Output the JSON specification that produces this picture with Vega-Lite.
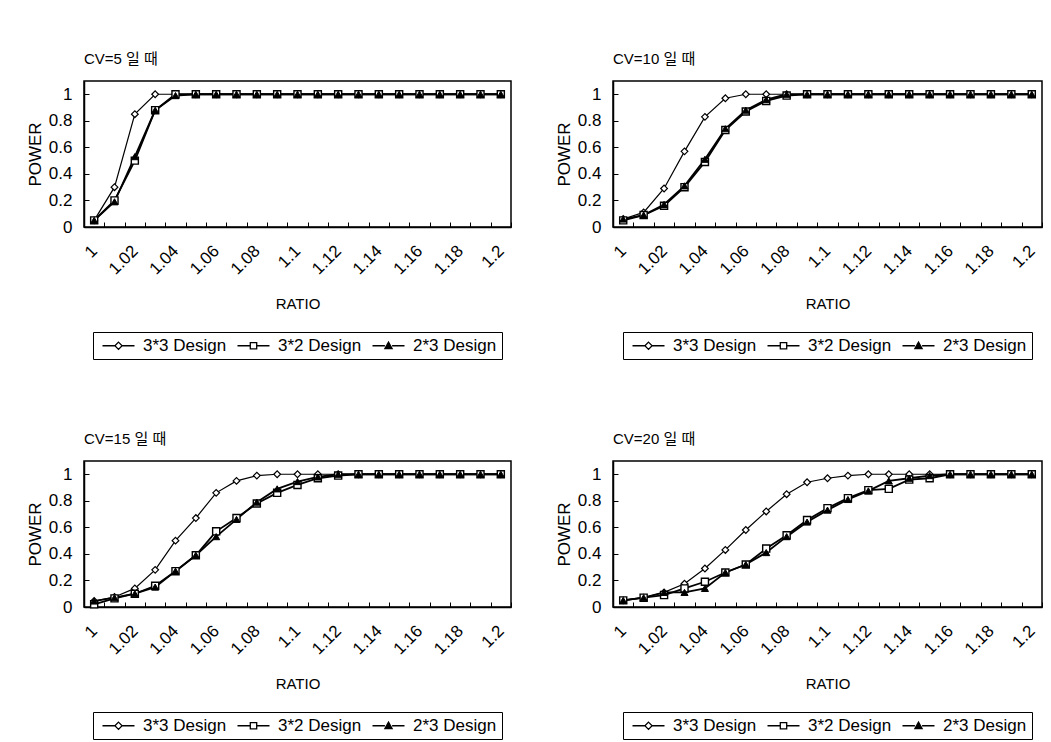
{
  "$schema": "https://vega.github.io/schema/vega-lite/v6.json",
  "background": "white",
  "padding": {"left": 25, "top": 51, "right": 4, "bottom": 2},
  "datasets": {
    "power": [
      {"cv":5,"design":"3*3 Design","ratio":1,"power":0.05},{"cv":5,"design":"3*3 Design","ratio":1.01,"power":0.3},{"cv":5,"design":"3*3 Design","ratio":1.02,"power":0.85},{"cv":5,"design":"3*3 Design","ratio":1.03,"power":1},{"cv":5,"design":"3*3 Design","ratio":1.04,"power":1},{"cv":5,"design":"3*3 Design","ratio":1.05,"power":1},{"cv":5,"design":"3*3 Design","ratio":1.06,"power":1},{"cv":5,"design":"3*3 Design","ratio":1.07,"power":1},{"cv":5,"design":"3*3 Design","ratio":1.08,"power":1},{"cv":5,"design":"3*3 Design","ratio":1.09,"power":1},{"cv":5,"design":"3*3 Design","ratio":1.1,"power":1},{"cv":5,"design":"3*3 Design","ratio":1.11,"power":1},{"cv":5,"design":"3*3 Design","ratio":1.12,"power":1},{"cv":5,"design":"3*3 Design","ratio":1.13,"power":1},{"cv":5,"design":"3*3 Design","ratio":1.14,"power":1},{"cv":5,"design":"3*3 Design","ratio":1.15,"power":1},{"cv":5,"design":"3*3 Design","ratio":1.16,"power":1},{"cv":5,"design":"3*3 Design","ratio":1.17,"power":1},{"cv":5,"design":"3*3 Design","ratio":1.18,"power":1},{"cv":5,"design":"3*3 Design","ratio":1.19,"power":1},{"cv":5,"design":"3*3 Design","ratio":1.2,"power":1},
      {"cv":5,"design":"3*2 Design","ratio":1,"power":0.05},{"cv":5,"design":"3*2 Design","ratio":1.01,"power":0.2},{"cv":5,"design":"3*2 Design","ratio":1.02,"power":0.5},{"cv":5,"design":"3*2 Design","ratio":1.03,"power":0.88},{"cv":5,"design":"3*2 Design","ratio":1.04,"power":1},{"cv":5,"design":"3*2 Design","ratio":1.05,"power":1},{"cv":5,"design":"3*2 Design","ratio":1.06,"power":1},{"cv":5,"design":"3*2 Design","ratio":1.07,"power":1},{"cv":5,"design":"3*2 Design","ratio":1.08,"power":1},{"cv":5,"design":"3*2 Design","ratio":1.09,"power":1},{"cv":5,"design":"3*2 Design","ratio":1.1,"power":1},{"cv":5,"design":"3*2 Design","ratio":1.11,"power":1},{"cv":5,"design":"3*2 Design","ratio":1.12,"power":1},{"cv":5,"design":"3*2 Design","ratio":1.13,"power":1},{"cv":5,"design":"3*2 Design","ratio":1.14,"power":1},{"cv":5,"design":"3*2 Design","ratio":1.15,"power":1},{"cv":5,"design":"3*2 Design","ratio":1.16,"power":1},{"cv":5,"design":"3*2 Design","ratio":1.17,"power":1},{"cv":5,"design":"3*2 Design","ratio":1.18,"power":1},{"cv":5,"design":"3*2 Design","ratio":1.19,"power":1},{"cv":5,"design":"3*2 Design","ratio":1.2,"power":1},
      {"cv":5,"design":"2*3 Design","ratio":1,"power":0.05},{"cv":5,"design":"2*3 Design","ratio":1.01,"power":0.19},{"cv":5,"design":"2*3 Design","ratio":1.02,"power":0.53},{"cv":5,"design":"2*3 Design","ratio":1.03,"power":0.88},{"cv":5,"design":"2*3 Design","ratio":1.04,"power":0.99},{"cv":5,"design":"2*3 Design","ratio":1.05,"power":1},{"cv":5,"design":"2*3 Design","ratio":1.06,"power":1},{"cv":5,"design":"2*3 Design","ratio":1.07,"power":1},{"cv":5,"design":"2*3 Design","ratio":1.08,"power":1},{"cv":5,"design":"2*3 Design","ratio":1.09,"power":1},{"cv":5,"design":"2*3 Design","ratio":1.1,"power":1},{"cv":5,"design":"2*3 Design","ratio":1.11,"power":1},{"cv":5,"design":"2*3 Design","ratio":1.12,"power":1},{"cv":5,"design":"2*3 Design","ratio":1.13,"power":1},{"cv":5,"design":"2*3 Design","ratio":1.14,"power":1},{"cv":5,"design":"2*3 Design","ratio":1.15,"power":1},{"cv":5,"design":"2*3 Design","ratio":1.16,"power":1},{"cv":5,"design":"2*3 Design","ratio":1.17,"power":1},{"cv":5,"design":"2*3 Design","ratio":1.18,"power":1},{"cv":5,"design":"2*3 Design","ratio":1.19,"power":1},{"cv":5,"design":"2*3 Design","ratio":1.2,"power":1},

      {"cv":10,"design":"3*3 Design","ratio":1,"power":0.06},{"cv":10,"design":"3*3 Design","ratio":1.01,"power":0.11},{"cv":10,"design":"3*3 Design","ratio":1.02,"power":0.29},{"cv":10,"design":"3*3 Design","ratio":1.03,"power":0.57},{"cv":10,"design":"3*3 Design","ratio":1.04,"power":0.83},{"cv":10,"design":"3*3 Design","ratio":1.05,"power":0.97},{"cv":10,"design":"3*3 Design","ratio":1.06,"power":1},{"cv":10,"design":"3*3 Design","ratio":1.07,"power":1},{"cv":10,"design":"3*3 Design","ratio":1.08,"power":1},{"cv":10,"design":"3*3 Design","ratio":1.09,"power":1},{"cv":10,"design":"3*3 Design","ratio":1.1,"power":1},{"cv":10,"design":"3*3 Design","ratio":1.11,"power":1},{"cv":10,"design":"3*3 Design","ratio":1.12,"power":1},{"cv":10,"design":"3*3 Design","ratio":1.13,"power":1},{"cv":10,"design":"3*3 Design","ratio":1.14,"power":1},{"cv":10,"design":"3*3 Design","ratio":1.15,"power":1},{"cv":10,"design":"3*3 Design","ratio":1.16,"power":1},{"cv":10,"design":"3*3 Design","ratio":1.17,"power":1},{"cv":10,"design":"3*3 Design","ratio":1.18,"power":1},{"cv":10,"design":"3*3 Design","ratio":1.19,"power":1},{"cv":10,"design":"3*3 Design","ratio":1.2,"power":1},
      {"cv":10,"design":"3*2 Design","ratio":1,"power":0.05},{"cv":10,"design":"3*2 Design","ratio":1.01,"power":0.09},{"cv":10,"design":"3*2 Design","ratio":1.02,"power":0.16},{"cv":10,"design":"3*2 Design","ratio":1.03,"power":0.3},{"cv":10,"design":"3*2 Design","ratio":1.04,"power":0.49},{"cv":10,"design":"3*2 Design","ratio":1.05,"power":0.73},{"cv":10,"design":"3*2 Design","ratio":1.06,"power":0.87},{"cv":10,"design":"3*2 Design","ratio":1.07,"power":0.95},{"cv":10,"design":"3*2 Design","ratio":1.08,"power":0.99},{"cv":10,"design":"3*2 Design","ratio":1.09,"power":1},{"cv":10,"design":"3*2 Design","ratio":1.1,"power":1},{"cv":10,"design":"3*2 Design","ratio":1.11,"power":1},{"cv":10,"design":"3*2 Design","ratio":1.12,"power":1},{"cv":10,"design":"3*2 Design","ratio":1.13,"power":1},{"cv":10,"design":"3*2 Design","ratio":1.14,"power":1},{"cv":10,"design":"3*2 Design","ratio":1.15,"power":1},{"cv":10,"design":"3*2 Design","ratio":1.16,"power":1},{"cv":10,"design":"3*2 Design","ratio":1.17,"power":1},{"cv":10,"design":"3*2 Design","ratio":1.18,"power":1},{"cv":10,"design":"3*2 Design","ratio":1.19,"power":1},{"cv":10,"design":"3*2 Design","ratio":1.2,"power":1},
      {"cv":10,"design":"2*3 Design","ratio":1,"power":0.06},{"cv":10,"design":"2*3 Design","ratio":1.01,"power":0.09},{"cv":10,"design":"2*3 Design","ratio":1.02,"power":0.17},{"cv":10,"design":"2*3 Design","ratio":1.03,"power":0.31},{"cv":10,"design":"2*3 Design","ratio":1.04,"power":0.51},{"cv":10,"design":"2*3 Design","ratio":1.05,"power":0.74},{"cv":10,"design":"2*3 Design","ratio":1.06,"power":0.88},{"cv":10,"design":"2*3 Design","ratio":1.07,"power":0.96},{"cv":10,"design":"2*3 Design","ratio":1.08,"power":1},{"cv":10,"design":"2*3 Design","ratio":1.09,"power":1},{"cv":10,"design":"2*3 Design","ratio":1.1,"power":1},{"cv":10,"design":"2*3 Design","ratio":1.11,"power":1},{"cv":10,"design":"2*3 Design","ratio":1.12,"power":1},{"cv":10,"design":"2*3 Design","ratio":1.13,"power":1},{"cv":10,"design":"2*3 Design","ratio":1.14,"power":1},{"cv":10,"design":"2*3 Design","ratio":1.15,"power":1},{"cv":10,"design":"2*3 Design","ratio":1.16,"power":1},{"cv":10,"design":"2*3 Design","ratio":1.17,"power":1},{"cv":10,"design":"2*3 Design","ratio":1.18,"power":1},{"cv":10,"design":"2*3 Design","ratio":1.19,"power":1},{"cv":10,"design":"2*3 Design","ratio":1.2,"power":1},

      {"cv":15,"design":"3*3 Design","ratio":1,"power":0.045},{"cv":15,"design":"3*3 Design","ratio":1.01,"power":0.075},{"cv":15,"design":"3*3 Design","ratio":1.02,"power":0.14},{"cv":15,"design":"3*3 Design","ratio":1.03,"power":0.28},{"cv":15,"design":"3*3 Design","ratio":1.04,"power":0.5},{"cv":15,"design":"3*3 Design","ratio":1.05,"power":0.67},{"cv":15,"design":"3*3 Design","ratio":1.06,"power":0.86},{"cv":15,"design":"3*3 Design","ratio":1.07,"power":0.95},{"cv":15,"design":"3*3 Design","ratio":1.08,"power":0.99},{"cv":15,"design":"3*3 Design","ratio":1.09,"power":1},{"cv":15,"design":"3*3 Design","ratio":1.1,"power":1},{"cv":15,"design":"3*3 Design","ratio":1.11,"power":1},{"cv":15,"design":"3*3 Design","ratio":1.12,"power":1},{"cv":15,"design":"3*3 Design","ratio":1.13,"power":1},{"cv":15,"design":"3*3 Design","ratio":1.14,"power":1},{"cv":15,"design":"3*3 Design","ratio":1.15,"power":1},{"cv":15,"design":"3*3 Design","ratio":1.16,"power":1},{"cv":15,"design":"3*3 Design","ratio":1.17,"power":1},{"cv":15,"design":"3*3 Design","ratio":1.18,"power":1},{"cv":15,"design":"3*3 Design","ratio":1.19,"power":1},{"cv":15,"design":"3*3 Design","ratio":1.2,"power":1},
      {"cv":15,"design":"3*2 Design","ratio":1,"power":0.02},{"cv":15,"design":"3*2 Design","ratio":1.01,"power":0.065},{"cv":15,"design":"3*2 Design","ratio":1.02,"power":0.1},{"cv":15,"design":"3*2 Design","ratio":1.03,"power":0.16},{"cv":15,"design":"3*2 Design","ratio":1.04,"power":0.27},{"cv":15,"design":"3*2 Design","ratio":1.05,"power":0.39},{"cv":15,"design":"3*2 Design","ratio":1.06,"power":0.57},{"cv":15,"design":"3*2 Design","ratio":1.07,"power":0.67},{"cv":15,"design":"3*2 Design","ratio":1.08,"power":0.78},{"cv":15,"design":"3*2 Design","ratio":1.09,"power":0.86},{"cv":15,"design":"3*2 Design","ratio":1.1,"power":0.92},{"cv":15,"design":"3*2 Design","ratio":1.11,"power":0.97},{"cv":15,"design":"3*2 Design","ratio":1.12,"power":0.99},{"cv":15,"design":"3*2 Design","ratio":1.13,"power":1},{"cv":15,"design":"3*2 Design","ratio":1.14,"power":1},{"cv":15,"design":"3*2 Design","ratio":1.15,"power":1},{"cv":15,"design":"3*2 Design","ratio":1.16,"power":1},{"cv":15,"design":"3*2 Design","ratio":1.17,"power":1},{"cv":15,"design":"3*2 Design","ratio":1.18,"power":1},{"cv":15,"design":"3*2 Design","ratio":1.19,"power":1},{"cv":15,"design":"3*2 Design","ratio":1.2,"power":1},
      {"cv":15,"design":"2*3 Design","ratio":1,"power":0.045},{"cv":15,"design":"2*3 Design","ratio":1.01,"power":0.07},{"cv":15,"design":"2*3 Design","ratio":1.02,"power":0.1},{"cv":15,"design":"2*3 Design","ratio":1.03,"power":0.15},{"cv":15,"design":"2*3 Design","ratio":1.04,"power":0.27},{"cv":15,"design":"2*3 Design","ratio":1.05,"power":0.39},{"cv":15,"design":"2*3 Design","ratio":1.06,"power":0.53},{"cv":15,"design":"2*3 Design","ratio":1.07,"power":0.66},{"cv":15,"design":"2*3 Design","ratio":1.08,"power":0.79},{"cv":15,"design":"2*3 Design","ratio":1.09,"power":0.89},{"cv":15,"design":"2*3 Design","ratio":1.1,"power":0.945},{"cv":15,"design":"2*3 Design","ratio":1.11,"power":0.98},{"cv":15,"design":"2*3 Design","ratio":1.12,"power":1},{"cv":15,"design":"2*3 Design","ratio":1.13,"power":1},{"cv":15,"design":"2*3 Design","ratio":1.14,"power":1},{"cv":15,"design":"2*3 Design","ratio":1.15,"power":1},{"cv":15,"design":"2*3 Design","ratio":1.16,"power":1},{"cv":15,"design":"2*3 Design","ratio":1.17,"power":1},{"cv":15,"design":"2*3 Design","ratio":1.18,"power":1},{"cv":15,"design":"2*3 Design","ratio":1.19,"power":1},{"cv":15,"design":"2*3 Design","ratio":1.2,"power":1},

      {"cv":20,"design":"3*3 Design","ratio":1,"power":0.05},{"cv":20,"design":"3*3 Design","ratio":1.01,"power":0.07},{"cv":20,"design":"3*3 Design","ratio":1.02,"power":0.11},{"cv":20,"design":"3*3 Design","ratio":1.03,"power":0.175},{"cv":20,"design":"3*3 Design","ratio":1.04,"power":0.29},{"cv":20,"design":"3*3 Design","ratio":1.05,"power":0.43},{"cv":20,"design":"3*3 Design","ratio":1.06,"power":0.58},{"cv":20,"design":"3*3 Design","ratio":1.07,"power":0.72},{"cv":20,"design":"3*3 Design","ratio":1.08,"power":0.85},{"cv":20,"design":"3*3 Design","ratio":1.09,"power":0.94},{"cv":20,"design":"3*3 Design","ratio":1.1,"power":0.97},{"cv":20,"design":"3*3 Design","ratio":1.11,"power":0.99},{"cv":20,"design":"3*3 Design","ratio":1.12,"power":1},{"cv":20,"design":"3*3 Design","ratio":1.13,"power":1},{"cv":20,"design":"3*3 Design","ratio":1.14,"power":1},{"cv":20,"design":"3*3 Design","ratio":1.15,"power":1},{"cv":20,"design":"3*3 Design","ratio":1.16,"power":1},{"cv":20,"design":"3*3 Design","ratio":1.17,"power":1},{"cv":20,"design":"3*3 Design","ratio":1.18,"power":1},{"cv":20,"design":"3*3 Design","ratio":1.19,"power":1},{"cv":20,"design":"3*3 Design","ratio":1.2,"power":1},
      {"cv":20,"design":"3*2 Design","ratio":1,"power":0.05},{"cv":20,"design":"3*2 Design","ratio":1.01,"power":0.07},{"cv":20,"design":"3*2 Design","ratio":1.02,"power":0.09},{"cv":20,"design":"3*2 Design","ratio":1.03,"power":0.14},{"cv":20,"design":"3*2 Design","ratio":1.04,"power":0.19},{"cv":20,"design":"3*2 Design","ratio":1.05,"power":0.26},{"cv":20,"design":"3*2 Design","ratio":1.06,"power":0.32},{"cv":20,"design":"3*2 Design","ratio":1.07,"power":0.44},{"cv":20,"design":"3*2 Design","ratio":1.08,"power":0.54},{"cv":20,"design":"3*2 Design","ratio":1.09,"power":0.655},{"cv":20,"design":"3*2 Design","ratio":1.1,"power":0.745},{"cv":20,"design":"3*2 Design","ratio":1.11,"power":0.82},{"cv":20,"design":"3*2 Design","ratio":1.12,"power":0.88},{"cv":20,"design":"3*2 Design","ratio":1.13,"power":0.89},{"cv":20,"design":"3*2 Design","ratio":1.14,"power":0.96},{"cv":20,"design":"3*2 Design","ratio":1.15,"power":0.97},{"cv":20,"design":"3*2 Design","ratio":1.16,"power":1},{"cv":20,"design":"3*2 Design","ratio":1.17,"power":1},{"cv":20,"design":"3*2 Design","ratio":1.18,"power":1},{"cv":20,"design":"3*2 Design","ratio":1.19,"power":1},{"cv":20,"design":"3*2 Design","ratio":1.2,"power":1},
      {"cv":20,"design":"2*3 Design","ratio":1,"power":0.05},{"cv":20,"design":"2*3 Design","ratio":1.01,"power":0.07},{"cv":20,"design":"2*3 Design","ratio":1.02,"power":0.11},{"cv":20,"design":"2*3 Design","ratio":1.03,"power":0.11},{"cv":20,"design":"2*3 Design","ratio":1.04,"power":0.14},{"cv":20,"design":"2*3 Design","ratio":1.05,"power":0.26},{"cv":20,"design":"2*3 Design","ratio":1.06,"power":0.32},{"cv":20,"design":"2*3 Design","ratio":1.07,"power":0.41},{"cv":20,"design":"2*3 Design","ratio":1.08,"power":0.53},{"cv":20,"design":"2*3 Design","ratio":1.09,"power":0.64},{"cv":20,"design":"2*3 Design","ratio":1.1,"power":0.73},{"cv":20,"design":"2*3 Design","ratio":1.11,"power":0.81},{"cv":20,"design":"2*3 Design","ratio":1.12,"power":0.875},{"cv":20,"design":"2*3 Design","ratio":1.13,"power":0.95},{"cv":20,"design":"2*3 Design","ratio":1.14,"power":0.97},{"cv":20,"design":"2*3 Design","ratio":1.15,"power":0.99},{"cv":20,"design":"2*3 Design","ratio":1.16,"power":1},{"cv":20,"design":"2*3 Design","ratio":1.17,"power":1},{"cv":20,"design":"2*3 Design","ratio":1.18,"power":1},{"cv":20,"design":"2*3 Design","ratio":1.19,"power":1},{"cv":20,"design":"2*3 Design","ratio":1.2,"power":1}
    ]
  },
  "data": {"name": "power"},
  "columns": 2,
  "spacing": {"column": 41, "row": 70},
  "resolve": {
    "scale": {"x": "independent", "y": "independent", "color": "independent"},
    "legend": {"color": "independent"},
    "axis": {"x": "independent", "y": "independent"}
  },
  "concat": [
    {
      "title": {"text": "CV=5 일 때"},
      "width": 427, "height": 146,
      "transform": [{"filter": "datum.cv == 5"}],
      "encoding": {
        "x": {"field": "ratio", "type": "ordinal", "title": "RATIO", "sort": "ascending", "scale": {"type": "band", "paddingInner": 0, "paddingOuter": 0}, "axis": {"labelAngle": -45, "labelAlign": "right", "labelBaseline": "middle", "labelExpr": "round(datum.value * 100) % 2 == 0 ? datum.label : ''", "tickBand": "extent", "tickSize": -5, "labelPadding": 26, "titlePadding": 19}},
        "y": {"field": "power", "type": "quantitative", "title": "POWER", "scale": {"domain": [0, 1.1], "nice": false}, "axis": {"values": [0, 0.2, 0.4, 0.6, 0.8, 1], "format": "~g", "tickSize": -5, "labelPadding": 17, "titlePadding": 4}}
      },
      "layer": [
        {"transform": [{"filter": "datum.design == '3*3 Design'"}], "mark": {"type": "line", "strokeWidth": 1.2},
         "encoding": {"color": {"field": "design", "type": "nominal", "title": null, "scale": {"domain": ["3*3 Design", "3*2 Design", "2*3 Design"], "range": ["black", "black", "black"]},
          "legend": {"title": null, "orient": "bottom", "direction": "horizontal", "columns": 3, "strokeColor": "black", "padding": 5, "offset": 20, "symbolSize": 64, "labelOffset": 28, "columnPadding": 6,
            "encode": {"symbols": {"update": {"shape": {"signal": "datum.value == '3*3 Design' ? 'M-1,0H2.1M3.9,0H7M3,-0.9L3.9,0L3,0.9L2.1,0Z' : datum.value == '3*2 Design' ? 'M-1,0H2.2M3.8,0H7M2.2,-0.8H3.8V0.8H2.2Z' : 'M-1,0H2.1M3.9,0H7M3,-0.9L3.9,0.7H2.1Z'"}, "fill": {"signal": "datum.value == '2*3 Design' ? 'black' : 'white'"}, "size": {"value": 64}, "strokeWidth": {"value": 1.3}, "opacity": {"value": 1}}}}}}}},
        {"transform": [{"filter": "datum.design != '3*3 Design'"}], "mark": {"type": "line", "strokeWidth": 1.8},
         "encoding": {"color": {"field": "design", "type": "nominal", "title": null, "scale": {"domain": ["3*3 Design", "3*2 Design", "2*3 Design"], "range": ["black", "black", "black"]},
          "legend": {"title": null, "orient": "bottom", "direction": "horizontal", "columns": 3, "strokeColor": "black", "padding": 5, "offset": 20, "symbolSize": 64, "labelOffset": 28, "columnPadding": 6,
            "encode": {"symbols": {"update": {"shape": {"signal": "datum.value == '3*3 Design' ? 'M-1,0H2.1M3.9,0H7M3,-0.9L3.9,0L3,0.9L2.1,0Z' : datum.value == '3*2 Design' ? 'M-1,0H2.2M3.8,0H7M2.2,-0.8H3.8V0.8H2.2Z' : 'M-1,0H2.1M3.9,0H7M3,-0.9L3.9,0.7H2.1Z'"}, "fill": {"signal": "datum.value == '2*3 Design' ? 'black' : 'white'"}, "size": {"value": 64}, "strokeWidth": {"value": 1.3}, "opacity": {"value": 1}}}}}}}},
        {"transform": [{"filter": "datum.design == '3*3 Design'"}], "mark": {"type": "point", "shape": "diamond", "filled": true, "fill": "white", "stroke": "black", "strokeWidth": 1.2, "size": 45, "opacity": 1}},
        {"transform": [{"filter": "datum.design == '3*2 Design'"}], "mark": {"type": "point", "shape": "square", "filled": true, "fill": "white", "stroke": "black", "strokeWidth": 1.4, "size": 50, "opacity": 1}},
        {"transform": [{"filter": "datum.design == '2*3 Design'"}], "mark": {"type": "point", "shape": "triangle-up", "filled": true, "fill": "black", "stroke": "black", "strokeWidth": 1, "size": 50, "opacity": 1}}
      ]
    },
    {
      "title": {"text": "CV=10 일 때"},
      "width": 429, "height": 146,
      "transform": [{"filter": "datum.cv == 10"}],
      "encoding": {
        "x": {"field": "ratio", "type": "ordinal", "title": "RATIO", "sort": "ascending", "scale": {"type": "band", "paddingInner": 0, "paddingOuter": 0}, "axis": {"labelAngle": -45, "labelAlign": "right", "labelBaseline": "middle", "labelExpr": "round(datum.value * 100) % 2 == 0 ? datum.label : ''", "tickBand": "extent", "tickSize": -5, "labelPadding": 26, "titlePadding": 19}},
        "y": {"field": "power", "type": "quantitative", "title": "POWER", "scale": {"domain": [0, 1.1], "nice": false}, "axis": {"values": [0, 0.2, 0.4, 0.6, 0.8, 1], "format": "~g", "tickSize": -5, "labelPadding": 17, "titlePadding": 4}}
      },
      "layer": [
        {"transform": [{"filter": "datum.design == '3*3 Design'"}], "mark": {"type": "line", "strokeWidth": 1.2},
         "encoding": {"color": {"field": "design", "type": "nominal", "title": null, "scale": {"domain": ["3*3 Design", "3*2 Design", "2*3 Design"], "range": ["black", "black", "black"]},
          "legend": {"title": null, "orient": "bottom", "direction": "horizontal", "columns": 3, "strokeColor": "black", "padding": 5, "offset": 20, "symbolSize": 64, "labelOffset": 28, "columnPadding": 6,
            "encode": {"symbols": {"update": {"shape": {"signal": "datum.value == '3*3 Design' ? 'M-1,0H2.1M3.9,0H7M3,-0.9L3.9,0L3,0.9L2.1,0Z' : datum.value == '3*2 Design' ? 'M-1,0H2.2M3.8,0H7M2.2,-0.8H3.8V0.8H2.2Z' : 'M-1,0H2.1M3.9,0H7M3,-0.9L3.9,0.7H2.1Z'"}, "fill": {"signal": "datum.value == '2*3 Design' ? 'black' : 'white'"}, "size": {"value": 64}, "strokeWidth": {"value": 1.3}, "opacity": {"value": 1}}}}}}}},
        {"transform": [{"filter": "datum.design != '3*3 Design'"}], "mark": {"type": "line", "strokeWidth": 1.8},
         "encoding": {"color": {"field": "design", "type": "nominal", "title": null, "scale": {"domain": ["3*3 Design", "3*2 Design", "2*3 Design"], "range": ["black", "black", "black"]},
          "legend": {"title": null, "orient": "bottom", "direction": "horizontal", "columns": 3, "strokeColor": "black", "padding": 5, "offset": 20, "symbolSize": 64, "labelOffset": 28, "columnPadding": 6,
            "encode": {"symbols": {"update": {"shape": {"signal": "datum.value == '3*3 Design' ? 'M-1,0H2.1M3.9,0H7M3,-0.9L3.9,0L3,0.9L2.1,0Z' : datum.value == '3*2 Design' ? 'M-1,0H2.2M3.8,0H7M2.2,-0.8H3.8V0.8H2.2Z' : 'M-1,0H2.1M3.9,0H7M3,-0.9L3.9,0.7H2.1Z'"}, "fill": {"signal": "datum.value == '2*3 Design' ? 'black' : 'white'"}, "size": {"value": 64}, "strokeWidth": {"value": 1.3}, "opacity": {"value": 1}}}}}}}},
        {"transform": [{"filter": "datum.design == '3*3 Design'"}], "mark": {"type": "point", "shape": "diamond", "filled": true, "fill": "white", "stroke": "black", "strokeWidth": 1.2, "size": 45, "opacity": 1}},
        {"transform": [{"filter": "datum.design == '3*2 Design'"}], "mark": {"type": "point", "shape": "square", "filled": true, "fill": "white", "stroke": "black", "strokeWidth": 1.4, "size": 50, "opacity": 1}},
        {"transform": [{"filter": "datum.design == '2*3 Design'"}], "mark": {"type": "point", "shape": "triangle-up", "filled": true, "fill": "black", "stroke": "black", "strokeWidth": 1, "size": 50, "opacity": 1}}
      ]
    },
    {
      "title": {"text": "CV=15 일 때"},
      "width": 427, "height": 146,
      "transform": [{"filter": "datum.cv == 15"}],
      "encoding": {
        "x": {"field": "ratio", "type": "ordinal", "title": "RATIO", "sort": "ascending", "scale": {"type": "band", "paddingInner": 0, "paddingOuter": 0}, "axis": {"labelAngle": -45, "labelAlign": "right", "labelBaseline": "middle", "labelExpr": "round(datum.value * 100) % 2 == 0 ? datum.label : ''", "tickBand": "extent", "tickSize": -5, "labelPadding": 26, "titlePadding": 19}},
        "y": {"field": "power", "type": "quantitative", "title": "POWER", "scale": {"domain": [0, 1.1], "nice": false}, "axis": {"values": [0, 0.2, 0.4, 0.6, 0.8, 1], "format": "~g", "tickSize": -5, "labelPadding": 17, "titlePadding": 4}}
      },
      "layer": [
        {"transform": [{"filter": "datum.design == '3*3 Design'"}], "mark": {"type": "line", "strokeWidth": 1.2},
         "encoding": {"color": {"field": "design", "type": "nominal", "title": null, "scale": {"domain": ["3*3 Design", "3*2 Design", "2*3 Design"], "range": ["black", "black", "black"]},
          "legend": {"title": null, "orient": "bottom", "direction": "horizontal", "columns": 3, "strokeColor": "black", "padding": 5, "offset": 20, "symbolSize": 64, "labelOffset": 28, "columnPadding": 6,
            "encode": {"symbols": {"update": {"shape": {"signal": "datum.value == '3*3 Design' ? 'M-1,0H2.1M3.9,0H7M3,-0.9L3.9,0L3,0.9L2.1,0Z' : datum.value == '3*2 Design' ? 'M-1,0H2.2M3.8,0H7M2.2,-0.8H3.8V0.8H2.2Z' : 'M-1,0H2.1M3.9,0H7M3,-0.9L3.9,0.7H2.1Z'"}, "fill": {"signal": "datum.value == '2*3 Design' ? 'black' : 'white'"}, "size": {"value": 64}, "strokeWidth": {"value": 1.3}, "opacity": {"value": 1}}}}}}}},
        {"transform": [{"filter": "datum.design != '3*3 Design'"}], "mark": {"type": "line", "strokeWidth": 1.8},
         "encoding": {"color": {"field": "design", "type": "nominal", "title": null, "scale": {"domain": ["3*3 Design", "3*2 Design", "2*3 Design"], "range": ["black", "black", "black"]},
          "legend": {"title": null, "orient": "bottom", "direction": "horizontal", "columns": 3, "strokeColor": "black", "padding": 5, "offset": 20, "symbolSize": 64, "labelOffset": 28, "columnPadding": 6,
            "encode": {"symbols": {"update": {"shape": {"signal": "datum.value == '3*3 Design' ? 'M-1,0H2.1M3.9,0H7M3,-0.9L3.9,0L3,0.9L2.1,0Z' : datum.value == '3*2 Design' ? 'M-1,0H2.2M3.8,0H7M2.2,-0.8H3.8V0.8H2.2Z' : 'M-1,0H2.1M3.9,0H7M3,-0.9L3.9,0.7H2.1Z'"}, "fill": {"signal": "datum.value == '2*3 Design' ? 'black' : 'white'"}, "size": {"value": 64}, "strokeWidth": {"value": 1.3}, "opacity": {"value": 1}}}}}}}},
        {"transform": [{"filter": "datum.design == '3*3 Design'"}], "mark": {"type": "point", "shape": "diamond", "filled": true, "fill": "white", "stroke": "black", "strokeWidth": 1.2, "size": 45, "opacity": 1}},
        {"transform": [{"filter": "datum.design == '3*2 Design'"}], "mark": {"type": "point", "shape": "square", "filled": true, "fill": "white", "stroke": "black", "strokeWidth": 1.4, "size": 50, "opacity": 1}},
        {"transform": [{"filter": "datum.design == '2*3 Design'"}], "mark": {"type": "point", "shape": "triangle-up", "filled": true, "fill": "black", "stroke": "black", "strokeWidth": 1, "size": 50, "opacity": 1}}
      ]
    },
    {
      "title": {"text": "CV=20 일 때"},
      "width": 429, "height": 146,
      "transform": [{"filter": "datum.cv == 20"}],
      "encoding": {
        "x": {"field": "ratio", "type": "ordinal", "title": "RATIO", "sort": "ascending", "scale": {"type": "band", "paddingInner": 0, "paddingOuter": 0}, "axis": {"labelAngle": -45, "labelAlign": "right", "labelBaseline": "middle", "labelExpr": "round(datum.value * 100) % 2 == 0 ? datum.label : ''", "tickBand": "extent", "tickSize": -5, "labelPadding": 26, "titlePadding": 19}},
        "y": {"field": "power", "type": "quantitative", "title": "POWER", "scale": {"domain": [0, 1.1], "nice": false}, "axis": {"values": [0, 0.2, 0.4, 0.6, 0.8, 1], "format": "~g", "tickSize": -5, "labelPadding": 17, "titlePadding": 4}}
      },
      "layer": [
        {"transform": [{"filter": "datum.design == '3*3 Design'"}], "mark": {"type": "line", "strokeWidth": 1.2},
         "encoding": {"color": {"field": "design", "type": "nominal", "title": null, "scale": {"domain": ["3*3 Design", "3*2 Design", "2*3 Design"], "range": ["black", "black", "black"]},
          "legend": {"title": null, "orient": "bottom", "direction": "horizontal", "columns": 3, "strokeColor": "black", "padding": 5, "offset": 20, "symbolSize": 64, "labelOffset": 28, "columnPadding": 6,
            "encode": {"symbols": {"update": {"shape": {"signal": "datum.value == '3*3 Design' ? 'M-1,0H2.1M3.9,0H7M3,-0.9L3.9,0L3,0.9L2.1,0Z' : datum.value == '3*2 Design' ? 'M-1,0H2.2M3.8,0H7M2.2,-0.8H3.8V0.8H2.2Z' : 'M-1,0H2.1M3.9,0H7M3,-0.9L3.9,0.7H2.1Z'"}, "fill": {"signal": "datum.value == '2*3 Design' ? 'black' : 'white'"}, "size": {"value": 64}, "strokeWidth": {"value": 1.3}, "opacity": {"value": 1}}}}}}}},
        {"transform": [{"filter": "datum.design != '3*3 Design'"}], "mark": {"type": "line", "strokeWidth": 1.8},
         "encoding": {"color": {"field": "design", "type": "nominal", "title": null, "scale": {"domain": ["3*3 Design", "3*2 Design", "2*3 Design"], "range": ["black", "black", "black"]},
          "legend": {"title": null, "orient": "bottom", "direction": "horizontal", "columns": 3, "strokeColor": "black", "padding": 5, "offset": 20, "symbolSize": 64, "labelOffset": 28, "columnPadding": 6,
            "encode": {"symbols": {"update": {"shape": {"signal": "datum.value == '3*3 Design' ? 'M-1,0H2.1M3.9,0H7M3,-0.9L3.9,0L3,0.9L2.1,0Z' : datum.value == '3*2 Design' ? 'M-1,0H2.2M3.8,0H7M2.2,-0.8H3.8V0.8H2.2Z' : 'M-1,0H2.1M3.9,0H7M3,-0.9L3.9,0.7H2.1Z'"}, "fill": {"signal": "datum.value == '2*3 Design' ? 'black' : 'white'"}, "size": {"value": 64}, "strokeWidth": {"value": 1.3}, "opacity": {"value": 1}}}}}}}},
        {"transform": [{"filter": "datum.design == '3*3 Design'"}], "mark": {"type": "point", "shape": "diamond", "filled": true, "fill": "white", "stroke": "black", "strokeWidth": 1.2, "size": 45, "opacity": 1}},
        {"transform": [{"filter": "datum.design == '3*2 Design'"}], "mark": {"type": "point", "shape": "square", "filled": true, "fill": "white", "stroke": "black", "strokeWidth": 1.4, "size": 50, "opacity": 1}},
        {"transform": [{"filter": "datum.design == '2*3 Design'"}], "mark": {"type": "point", "shape": "triangle-up", "filled": true, "fill": "black", "stroke": "black", "strokeWidth": 1, "size": 50, "opacity": 1}}
      ]
    }
  ],
  "config": {
    "font": "Liberation Sans, Noto Sans CJK KR, sans-serif",
    "view": {"stroke": "black", "strokeWidth": 1.5},
    "axis": {"grid": false, "domainColor": "black", "tickColor": "black", "labelColor": "black", "titleColor": "black", "labelFontSize": 17, "titleFontSize": 16, "titleFontWeight": "normal", "domainWidth": 1.5, "tickWidth": 1},
    "axisY": {"titleFontSize": 17},
    "axisX": {"titleFontSize": 15},
    "title": {"anchor": "start", "frame": "group", "fontSize": 15, "fontWeight": "normal", "color": "black", "offset": 14},
    "legend": {"labelFontSize": 17, "labelColor": "black", "layout": {"bottom": {"anchor": "middle", "bounds": "full", "center": false, "direction": "horizontal", "margin": 4, "offset": 0}}}
  }
}
